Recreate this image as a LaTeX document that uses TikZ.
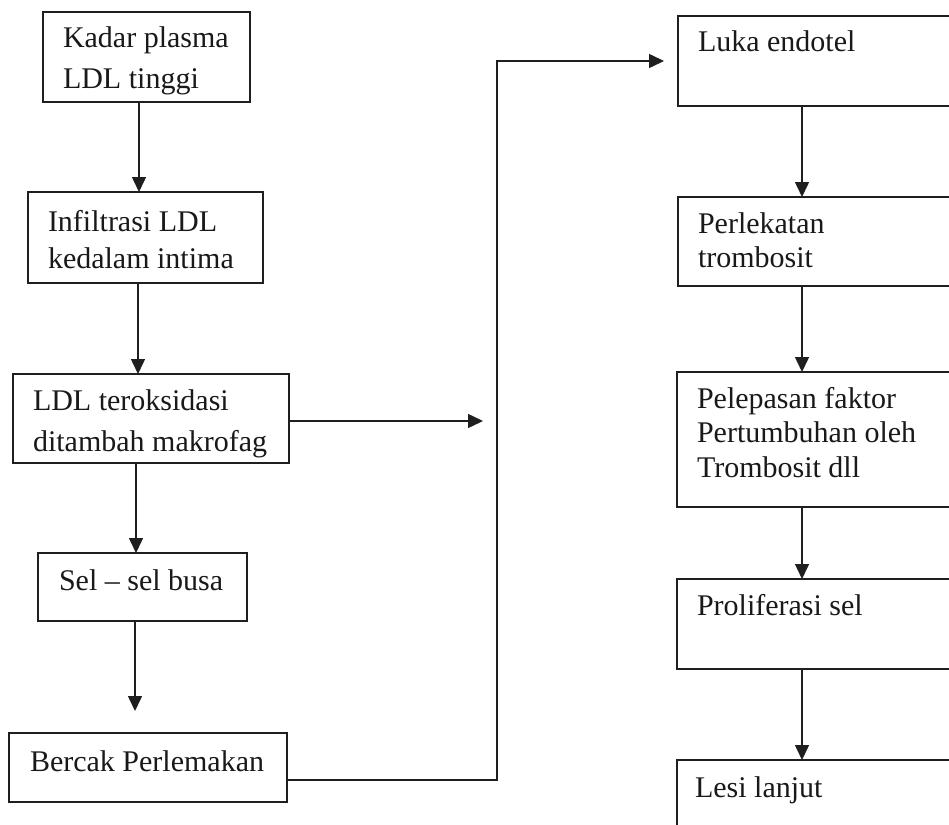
\documentclass[tikz,border=0pt]{standalone}
\usepackage{fontspec}
\setmainfont{Liberation Serif}
\usetikzlibrary{arrows.meta}
\begin{document}
\begin{tikzpicture}[x=1pt,y=-1pt,
  box/.style={draw=black!88,line width=1.5pt,rectangle,anchor=north west,inner sep=0pt,outer sep=0pt},
  txt/.style={anchor=base west,inner sep=0pt,outer sep=0pt,text=black!90,font=\fontsize{30}{36}\selectfont},
  arr/.style={draw=black!88,line width=1.5pt,-{Triangle[length=15pt,width=14pt]}},
  ln/.style={draw=black!88,line width=1.5pt}]
\useasboundingbox[fill=white] (0,0) rectangle (949,824);
\clip (0,0) rectangle (949,824);
% left column boxes
\node[box,minimum width=207pt,minimum height=90pt] (b1) at (43,12) {};
\node[box,minimum width=235pt,minimum height=91pt] (b2) at (28,192) {};
\node[box,minimum width=276pt,minimum height=89pt] (b3) at (13,374) {};
\node[box,minimum width=209pt,minimum height=68pt] (b4) at (38,553) {};
\node[box,minimum width=278pt,minimum height=69pt] (b5) at (9,733) {};
% right column boxes (cut off at the right edge)
\node[box,minimum width=300pt,minimum height=90pt] (r1) at (678,16) {};
\node[box,minimum width=300pt,minimum height=89pt] (r2) at (678,197) {};
\node[box,minimum width=300pt,minimum height=135pt] (r3) at (677,372) {};
\node[box,minimum width=300pt,minimum height=90pt] (r4) at (677,579) {};
\node[box,minimum width=300pt,minimum height=90pt] (r5) at (677,760) {};
% texts
\node[txt] (t1a) at (63,48) {Kadar plasma};
\node[txt] (t1b) at (63,89) {LDL tinggi};
\node[txt] (t2a) at (48,231) {Infiltrasi LDL};
\node[txt] (t2b) at (48,268) {kedalam intima};
\node[txt] (t3a) at (33,410) {LDL teroksidasi};
\node[txt] (t3b) at (33,451) {ditambah makrofag};
\node[txt] (t4) at (59,590) {Sel -- sel busa};
\node[txt] (t5) at (30,771) {Bercak Perlemakan};
\node[txt] (s1) at (698,52) {Luka endotel};
\node[txt] (s2a) at (698,233) {Perlekatan};
\node[txt] (s2b) at (698,267) {trombosit};
\node[txt] (s3a) at (697,408) {Pelepasan faktor};
\node[txt] (s3b) at (697,442) {Pertumbuhan oleh};
\node[txt] (s3c) at (697,477) {Trombosit dll};
\node[txt] (s4) at (697,615) {Proliferasi sel};
\node[txt] (s5) at (695,797) {Lesi lanjut};
% connector guide coordinates
\coordinate (x1) at (139,0);
\coordinate (x2) at (138,0);
\coordinate (x3) at (136,0);
\coordinate (e4) at (135,711);
\coordinate (e3) at (483,421);
\coordinate (j) at (497,780);
\coordinate (xr) at (802,0);
% left connectors
\draw[arr] (b1.south -| x1) -- (b2.north -| x1);
\draw[arr] (b2.south -| x2) -- (b3.north -| x2);
\draw[arr] (b3.south -| x3) -- (b4.north -| x3);
\draw[arr] (b4.south -| e4) -- (e4);
\draw[arr] (b3.east |- e3) -- (e3);
\draw[arr,shorten >=14pt] (b5.east |- j) -- (j) |- (r1.west);
% right connectors
\draw[arr] (r1.south -| xr) -- (r2.north -| xr);
\draw[arr] (r2.south -| xr) -- (r3.north -| xr);
\draw[arr] (r3.south -| xr) -- (r4.north -| xr);
\draw[arr] (r4.south -| xr) -- (r5.north -| xr);
\end{tikzpicture}
\end{document}
